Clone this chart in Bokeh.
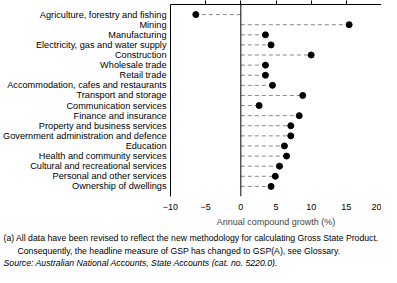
from bokeh.plotting import figure
from bokeh.models import Span, LinearAxis, FixedTicker, Title, Range1d
from bokeh.embed import file_html
from bokeh.resources import INLINE

industries = [
    "Agriculture, forestry and fishing",
    "Mining",
    "Manufacturing",
    "Electricity, gas and water supply",
    "Construction",
    "Wholesale trade",
    "Retail trade",
    "Accommodation, cafes and restaurants",
    "Transport and storage",
    "Communication services",
    "Finance and insurance",
    "Property and business services",
    "Government administration and defence",
    "Education",
    "Health and community services",
    "Cultural and recreational services",
    "Personal and other services",
    "Ownership of dwellings",
]
growth = [-6.4, 15.4, 3.5, 4.3, 10.0, 3.5, 3.5, 4.5, 8.8, 2.6, 8.3, 7.1, 7.1, 6.2, 6.5, 5.5, 4.9, 4.3]
x_ticks = [-10, -5, 0, 5, 10, 15, 20]
x_tick_labels = ["\u221210", "\u22125", "0", "5", "10", "15", "20"]
x_title = "Annual compound growth (%)"
note_1 = "(a) All data have been revised to reflect the new methodology for calculating Gross State Product."
note_2 = "Consequently, the headline measure of GSP has changed to GSP(A), see Glossary."
source = "Source: Australian National Accounts, State Accounts (cat. no. 5220.0)."

FONT = "Liberation Sans"
LEFT = 169

n = len(industries)
rows = [n - 1 - i for i in range(n)]  # first industry at top

p = figure(width=381, height=267, output_backend="svg", toolbar_location=None,
           y_range=Range1d(-1, n), x_range=Range1d(-10, 20), x_axis_location="below",
           min_border_left=LEFT, min_border_right=0, min_border_top=4, min_border_bottom=0)
p.outline_line_color = None
p.border_fill_color = "white"
p.xgrid.grid_line_color = None
p.ygrid.grid_line_color = None
p.background_fill_color = "white"

p.segment(x0=[0] * n, y0=rows, x1=growth, y1=rows,
          line_color="#888888", line_width=1, line_dash="4 3")
p.scatter(x=growth, y=rows, marker="circle", size=6, fill_color="black", line_color="black")

p.add_layout(Span(location=0, dimension="height", line_color="black", line_width=1))

xa = p.xaxis[0]
xa.ticker = FixedTicker(ticks=x_ticks)
xa.major_label_overrides = {t: l for t, l in zip(x_ticks, x_tick_labels)}
xa.axis_line_color = None
xa.major_tick_line_color = None
xa.minor_tick_line_color = None
xa.major_tick_out = 0
xa.major_tick_in = 0
xa.major_label_standoff = 7
xa.major_label_text_font = FONT
xa.major_label_text_font_size = "9px"
xa.major_label_text_color = "black"
xa.axis_label = x_title
xa.axis_label_text_font = FONT
xa.axis_label_text_font_size = "9px"
xa.axis_label_text_font_style = "normal"
xa.axis_label_standoff = 4

# top frame line with outward ticks
ta = LinearAxis(ticker=FixedTicker(ticks=x_ticks[1:-1]),
                major_label_overrides={t: "" for t in x_ticks},
                major_label_text_font_size="1px", major_label_standoff=0,
                major_tick_out=4, major_tick_in=0,
                minor_tick_line_color=None, axis_line_color="black", major_tick_line_color="black")
p.add_layout(ta, "above")

# right frame line
ra = LinearAxis(ticker=FixedTicker(ticks=[]),
                major_label_text_font_size="1px", major_label_standoff=0,
                major_tick_out=0, major_tick_in=0, major_tick_line_color=None,
                minor_tick_line_color=None, axis_line_color="black")
p.add_layout(ra, "right")

ya = p.yaxis[0]
ya.ticker = FixedTicker(ticks=rows)
ya.major_label_overrides = {r: name for r, name in zip(rows, industries)}
ya.axis_line_color = "black"
ya.major_tick_line_color = None
ya.minor_tick_line_color = None
ya.major_tick_out = 0
ya.major_tick_in = 0
ya.major_label_standoff = 4
ya.major_label_text_font = FONT
ya.major_label_text_font_size = "9.2px"
ya.major_label_text_color = "black"

for txt, off, style, so in [(note_1, 2 - LEFT, "normal", 2), (note_2, 16 - LEFT, "normal", 0), (source, 2 - LEFT, "italic", 0)]:
    p.add_layout(Title(text=txt, align="left", offset=off, standoff=so,
                       text_font=FONT, text_font_size="8.7px", text_font_style=style,
                       text_color="black"), "below")

open("out.html", "w").write(file_html(p, INLINE))
